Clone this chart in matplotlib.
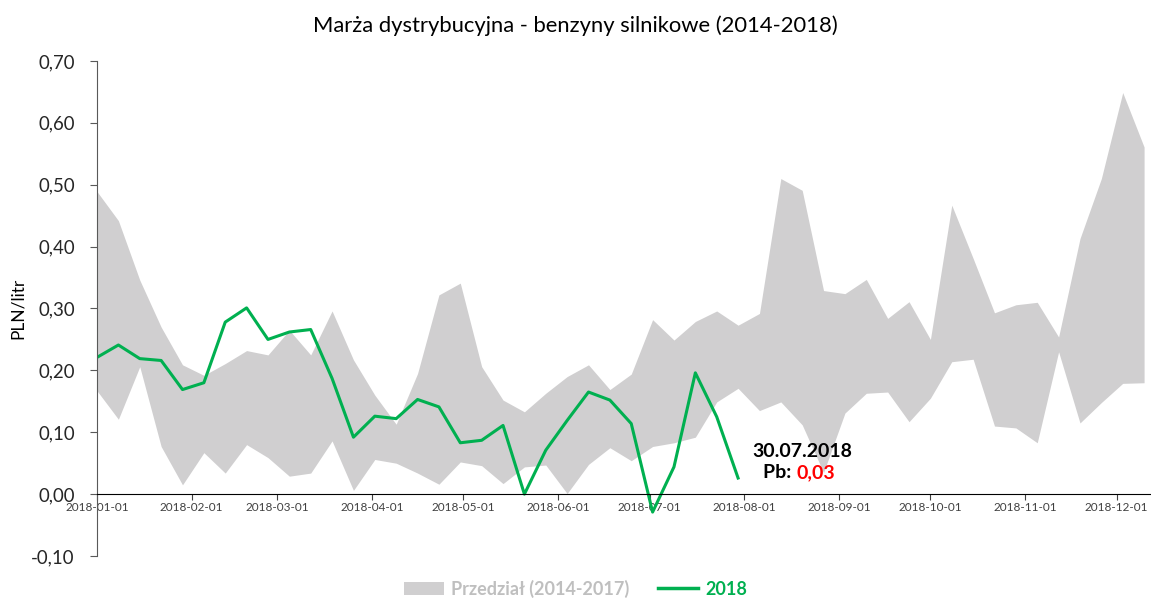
import pandas as pd
import matplotlib.pyplot as plt
import matplotlib.dates as mdates
from matplotlib.patches import Patch
from matplotlib.lines import Line2D

plt.rcParams['font.family'] = ['Lato', 'DejaVu Sans']

# weekly points, starting Monday 2018-01-01
weeks = pd.date_range('2018-01-01', periods=50, freq='7D')

# range of 2014-2017 (upper / lower)
band_hi = [0.489, 0.442, 0.346, 0.270, 0.209, 0.192, 0.211, 0.232, 0.225, 0.265,
           0.225, 0.296, 0.217, 0.160, 0.113, 0.195, 0.322, 0.341, 0.206, 0.152,
           0.133, 0.163, 0.190, 0.209, 0.169, 0.194, 0.282, 0.249, 0.279, 0.296,
           0.273, 0.292, 0.510, 0.491, 0.329, 0.324, 0.347, 0.284, 0.311, 0.250,
           0.467, 0.381, 0.293, 0.306, 0.310, 0.254, 0.413, 0.510, 0.649, 0.561]
band_lo = [0.167, 0.121, 0.206, 0.077, 0.015, 0.067, 0.034, 0.080, 0.059, 0.029,
           0.034, 0.086, 0.006, 0.056, 0.050, 0.034, 0.016, 0.052, 0.046, 0.017,
           0.044, 0.047, 0.001, 0.048, 0.075, 0.054, 0.077, 0.083, 0.092, 0.149,
           0.171, 0.135, 0.149, 0.112, 0.035, 0.131, 0.163, 0.165, 0.117, 0.155,
           0.214, 0.218, 0.110, 0.107, 0.083, 0.230, 0.115, 0.148, 0.179, 0.180]

# 2018 margin
y2018 = [0.221, 0.241, 0.219, 0.216, 0.169, 0.180, 0.278, 0.301, 0.250, 0.262,
         0.266, 0.187, 0.092, 0.126, 0.122, 0.153, 0.141, 0.083, 0.087, 0.111,
         0.000, 0.071, 0.119, 0.165, 0.152, 0.114, -0.029, 0.044, 0.196, 0.125,
         0.026]

yticks = [-0.10, 0.0, 0.10, 0.20, 0.30, 0.40, 0.50, 0.60, 0.70]
months = pd.date_range('2018-01-01', '2018-12-01', freq='MS')

grey = '#d0cfd0'
green = '#00b050'
txt = '#262626'

fig = plt.figure(figsize=(11.51, 6.02), dpi=100)
ax = fig.add_axes([0.0843, 0.0764, 0.915, 0.8223])

ax.fill_between(weeks, band_lo, band_hi, color=grey, linewidth=0)
ax.plot(weeks[:len(y2018)], y2018, color=green, linewidth=2.2)

ax.set_ylim(-0.10, 0.70)
ax.set_xlim(pd.Timestamp('2018-01-01'), pd.Timestamp('2018-12-12'))
ax.set_yticks(yticks)
ax.set_yticklabels([f'{v:.2f}'.replace('.', ',') for v in yticks], fontsize=13.4, color=txt)
ax.set_xticks(months)
ax.xaxis.set_major_formatter(mdates.DateFormatter('%Y-%m-%d'))
ax.tick_params(axis='x', labelsize=8.5, colors='#404040', length=4, pad=2, direction='out')
ax.tick_params(axis='y', length=5, width=0.8, color='#595959', pad=11)

ax.spines['top'].set_visible(False)
ax.spines['right'].set_visible(False)
ax.spines['bottom'].set_position(('data', 0))
ax.spines['bottom'].set_color('black')
ax.spines['left'].set_color('#595959')

ax.set_ylabel('PLN/litr', fontsize=12.5, color='black', labelpad=4)
fig.suptitle('Marża dystrybucyjna - benzyny silnikowe (2014-2018)', fontsize=15.8,
             color='black', y=0.975)

# last value note
note_x = pd.Timestamp('2018-08-20')
ax.text(note_x, 0.069, '30.07.2018', ha='center', va='center', fontsize=14,
        fontweight='bold', color='black')
ax.text(pd.Timestamp('2018-08-18'), 0.035, 'Pb: ', ha='right', va='center', fontsize=14,
        fontweight='bold', color='black')
ax.text(pd.Timestamp('2018-08-18'), 0.035, '0,03', ha='left', va='center', fontsize=14,
        fontweight='bold', color='red')

handles = [Patch(facecolor=grey, edgecolor='none'),
           Line2D([0], [0], color=green, linewidth=2.5)]
leg = fig.legend(handles, ['Przedział (2014-2017)', '2018'], loc='lower center',
                 bbox_to_anchor=(0.5, -0.02), ncol=2, frameon=False, fontsize=13,
                 handlelength=2.2, handletextpad=0.4, columnspacing=1.6)
for t, c in zip(leg.get_texts(), ['#bfbfbf', green]):
    t.set_color(c)
    t.set_fontweight('bold')

plt.savefig('out.png', dpi=100)
